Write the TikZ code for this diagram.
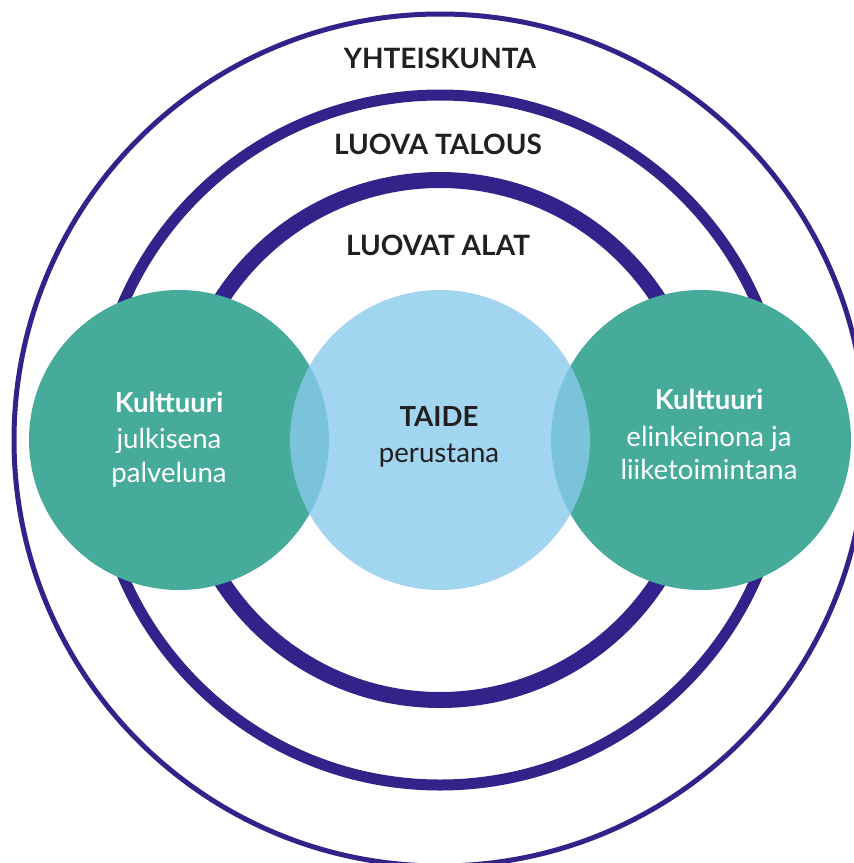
\documentclass[tikz,border=0pt]{standalone}
\usepackage{fontspec}
\setmainfont{Lato}
\definecolor{ringpurple}{RGB}{51,34,138}
\definecolor{tealc}{RGB}{70,171,154}
\definecolor{bluec}{RGB}{137,202,237}
\definecolor{darktext}{RGB}{35,31,32}
\begin{document}
\begin{tikzpicture}[x=1pt,y=-1pt,
  ring/.style={draw=ringpurple},
  bubble/.style={circle,minimum size=300pt,inner sep=0pt,draw=none},
  ringlabel/.style={anchor=base,font=\fontsize{28}{34}\selectfont\bfseries,text=darktext,inner sep=0pt},
  whitetxt/.style={anchor=base,font=\fontsize{27.6}{34}\selectfont,text=white,inner sep=0pt},
  darktxt/.style={anchor=base,font=\fontsize{27.6}{34}\selectfont,text=darktext,inner sep=0pt}]
\useasboundingbox (0,0) rectangle (854,863);
\clip (0,0) rectangle (854,863);
\fill[white] (0,0) rectangle (854,863);
% rings
\draw[ring,line width=5pt] (440,440) circle (426pt);
\draw[ring,line width=11pt] (440,440) circle (345pt);
\draw[ring,line width=16pt] (440,440) circle (260pt);
% ring labels
\node[ringlabel] (soc) at (440,68) {YHTEISKUNTA};
\node[ringlabel] (eco) at (438,154) {LUOVA TALOUS};
\node[ringlabel] (ind) at (438,255) {LUOVAT ALAT};
% circles
\node[bubble,fill=tealc] (pub) at (179,440) {};
\node[bubble,fill=tealc] (biz) at (701,440) {};
\node[bubble,fill=bluec,fill opacity=0.78] (art) at (440,440) {};
% texts
\node[whitetxt,font=\fontsize{27.6}{34}\selectfont\bfseries] (pubA) at (169,412) {Kulttuuri};
\node[whitetxt] (pubB) at (169,448) {julkisena};
\node[whitetxt] (pubC) at (169,482) {palveluna};
\node[darktxt,font=\fontsize{27.6}{34}\selectfont\bfseries] (artA) at (439,426) {TAIDE};
\node[darktxt] (artB) at (439,462) {perustana};
\node[whitetxt,font=\fontsize{27.6}{34}\selectfont\bfseries] (bizA) at (709,409) {Kulttuuri};
\node[whitetxt] (bizB) at (709,446) {elinkeinona ja};
\node[whitetxt] (bizC) at (709,479) {liiketoimintana};
\end{tikzpicture}
\end{document}
